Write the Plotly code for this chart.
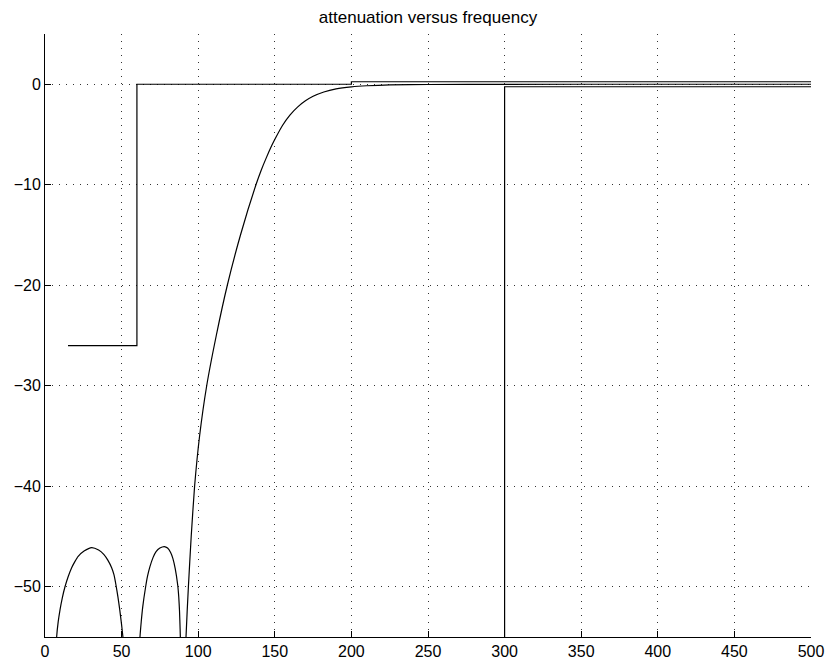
import plotly.graph_objects as go

# Filter response
freq_resp = [0, 4, 6.3, 7.6, 8.6, 9.8, 11.3, 13.05, 15.1, 17.4, 19.5, 21.5, 25.5, 30.5, 35,
             38.5, 41, 43.5, 45, 46.3, 47.6, 48.8, 50, 51, 52, 54, 56.5, 59, 61, 62, 62.8,
             63.8, 65.7, 67, 68.5, 70.5, 72.5, 75, 77.9, 80, 82, 83.5, 85, 86.6, 87.3, 87.8,
             88.2, 88.5, 89, 90, 91.5, 92.04, 93.6, 95.43, 97.65, 100.91, 105.55, 111.81, 119,
             127.6, 137.7, 141, 144.5, 148, 151, 155, 160, 165, 170, 175, 182, 190, 200, 210,
             225, 250, 300, 400, 500]
atten_db = [-90, -70, -60, -55, -53.5, -52.3, -51.1, -50, -49, -48.1, -47.5, -47.0, -46.45,
            -46.1, -46.35, -46.8, -47.35, -48.1, -48.8, -49.8, -51, -52.3, -53.8, -55.2, -57,
            -65, -85, -70, -58, -55, -53.5, -52, -50, -48.9, -48, -47.1, -46.5, -46.15, -46.0,
            -46.15, -46.6, -47.2, -48.2, -49.8, -51, -52.4, -54.2, -56, -62, -85, -60, -55,
            -50, -45, -40, -35, -30, -25, -20, -15, -10, -8.6, -7.3, -6.1, -5.2, -4.1, -3.05,
            -2.25, -1.65, -1.2, -0.77, -0.46, -0.26, -0.15, -0.07, -0.025, -0.005, 0, 0]

# Specification bounds
spec_upper_x = [15, 60, 60, 200, 200, 500]
spec_upper_y = [-26, -26, 0, 0, 0.25, 0.25]
spec_lower_x = [300, 300, 500]
spec_lower_y = [-60, -0.25, -0.25]

x_ticks = [0, 50, 100, 150, 200, 250, 300, 350, 400, 450, 500]
y_ticks = [-50, -40, -30, -20, -10, 0]

fig = go.Figure()
fig.add_trace(go.Scatter(x=spec_upper_x, y=spec_upper_y, mode="lines",
                         line=dict(color="black", width=1.2), hoverinfo="skip"))
fig.add_trace(go.Scatter(x=spec_lower_x, y=spec_lower_y, mode="lines",
                         line=dict(color="black", width=1.2), hoverinfo="skip"))
fig.add_trace(go.Scatter(x=freq_resp, y=atten_db, mode="lines",
                         line=dict(color="black", width=1.2, shape="spline", smoothing=0.5)))

font_family = "Liberation Sans, Arial, Helvetica, sans-serif"
fig.update_layout(
    width=827, height=663,
    margin=dict(l=45, r=16, t=34, b=26, autoexpand=False),
    paper_bgcolor="white", plot_bgcolor="white",
    showlegend=False,
    font=dict(family=font_family, size=16, color="black"),
    title=dict(text="attenuation versus frequency", x=0.5, xanchor="center",
               xref="paper", y=1, yref="container", yanchor="top", pad=dict(t=11),
               font=dict(size=17, color="black", family=font_family)),
)
fig.update_xaxes(range=[0, 500], tickvals=x_ticks, showgrid=True, gridcolor="#333",
                 gridwidth=1, griddash="1px,6px", zeroline=False, showline=True,
                 linecolor="black", linewidth=1, ticks="inside", ticklen=6,
                 tickcolor="black", mirror=False, automargin=False, tickfont=dict(size=16))
fig.update_yaxes(range=[-55, 5], tickvals=y_ticks, showgrid=True, gridcolor="#333",
                 gridwidth=1, griddash="1px,6px", zeroline=False, showline=True,
                 linecolor="black", linewidth=1, ticks="inside", ticklen=6,
                 tickcolor="black", mirror=False, automargin=False, tickfont=dict(size=16))

fig.write_html("out.html")
